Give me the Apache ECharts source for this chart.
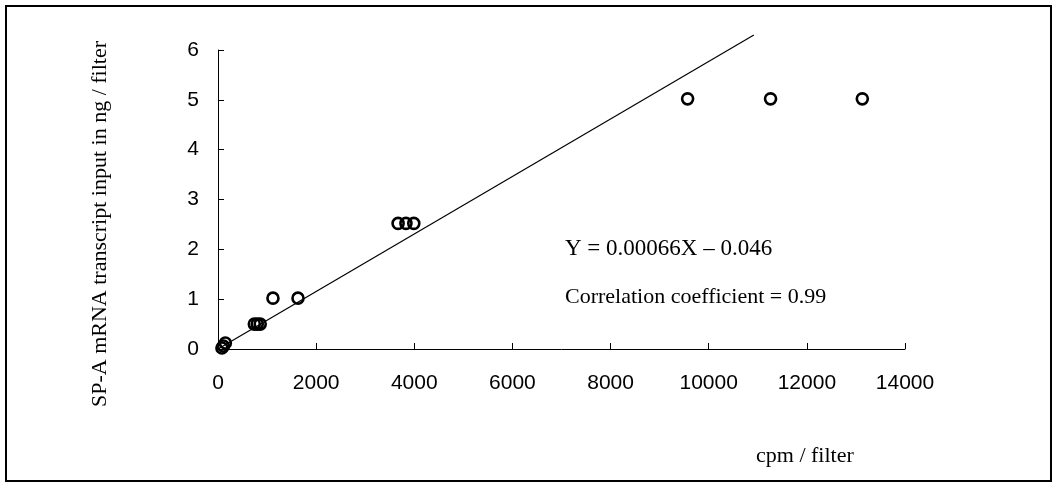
<!DOCTYPE html>
<html>
<head>
<meta charset="utf-8">
<script src="https://cdn.jsdelivr.net/npm/echarts@6/dist/echarts.min.js"></script>
<style>html,body{margin:0;padding:0;background:#fff}#c{width:1058px;height:488px}</style>
</head>
<body>
<div id="c"></div>
<script>
// Data
const cpmValues = [80, 110, 150, 740, 800, 860, 1120, 1630, 3670, 3830, 3990, 9570, 11260, 13130];
const ngValues  = [0.02, 0.06, 0.12, 0.5, 0.5, 0.5, 1.02, 1.02, 2.52, 2.52, 2.52, 5.02, 5.02, 5.02];
const fitLineX = [0, 10920];
const fitLineY = [0, 6.3];
const xTicks = [0, 2000, 4000, 6000, 8000, 10000, 12000, 14000];
const yTicks = [0, 1, 2, 3, 4, 5, 6];
const yAxisTitle = 'SP-A mRNA transcript input in ng / filter';
const xAxisTitle = 'cpm / filter';
const equationText = 'Y = 0.00066X \u2013 0.046';
const correlationText = 'Correlation coefficient = 0.99';

const points = cpmValues.map((x, i) => [x, ngValues[i]]);
const fitLine = fitLineX.map((x, i) => [x, fitLineY[i]]);

const chart = echarts.init(document.getElementById('c'), null, {renderer: 'canvas'});
const numFont = {fontFamily: 'Liberation Sans, Arial, sans-serif', fontSize: 21, color: '#000'};
const serif = 'Liberation Serif, Times New Roman, serif';

chart.setOption({
  animation: false,
  backgroundColor: '#fff',
  grid: {left: 218, right: 153, top: 50, bottom: 139, containLabel: false},
  xAxis: {
    type: 'value', min: xTicks[0], max: xTicks[xTicks.length - 1], interval: 2000,
    axisLine: {show: true, lineStyle: {color: '#000', width: 1}},
    axisTick: {show: true, inside: true, length: 6, lineStyle: {color: '#000'}},
    axisLabel: Object.assign({margin: 24, formatter: v => String(v)}, numFont),
    splitLine: {show: false}
  },
  yAxis: {
    type: 'value', min: yTicks[0], max: yTicks[yTicks.length - 1], interval: 1,
    axisLine: {show: true, lineStyle: {color: '#000', width: 1}},
    axisTick: {show: true, inside: true, length: 6, lineStyle: {color: '#000'}},
    axisLabel: Object.assign({margin: 19, formatter: v => String(v)}, numFont),
    splitLine: {show: false}
  },
  series: [
    {
      type: 'line', data: fitLine, symbol: 'none', clip: false,
      lineStyle: {color: '#000', width: 1.2}, silent: true, z: 2
    },
    {
      type: 'scatter', data: points, symbol: 'circle', symbolSize: 11,
      itemStyle: {color: 'rgba(255,255,255,0)', borderColor: '#000', borderWidth: 2.6, opacity: 1}, z: 3
    }
  ],
  graphic: [
    {type: 'rect', shape: {x: 6, y: 6, width: 1045, height: 475},
     style: {fill: 'none', stroke: '#000', lineWidth: 2}, silent: true},
    {type: 'text', x: 100, y: 224, rotation: Math.PI / 2,
     style: {text: yAxisTitle, font: '22px ' + serif, fill: '#000', textAlign: 'center', textVerticalAlign: 'middle'}},
    {type: 'text', x: 756, y: 456,
     style: {text: xAxisTitle, font: '22px ' + serif, fill: '#000', textAlign: 'left', textVerticalAlign: 'middle'}},
    {type: 'text', x: 565, y: 249,
     style: {text: equationText, font: '23px ' + serif, fill: '#000', textAlign: 'left', textVerticalAlign: 'middle'}},
    {type: 'text', x: 565, y: 297,
     style: {text: correlationText, font: '22px ' + serif, fill: '#000', textAlign: 'left', textVerticalAlign: 'middle'}}
  ]
});
</script>
</body>
</html>
